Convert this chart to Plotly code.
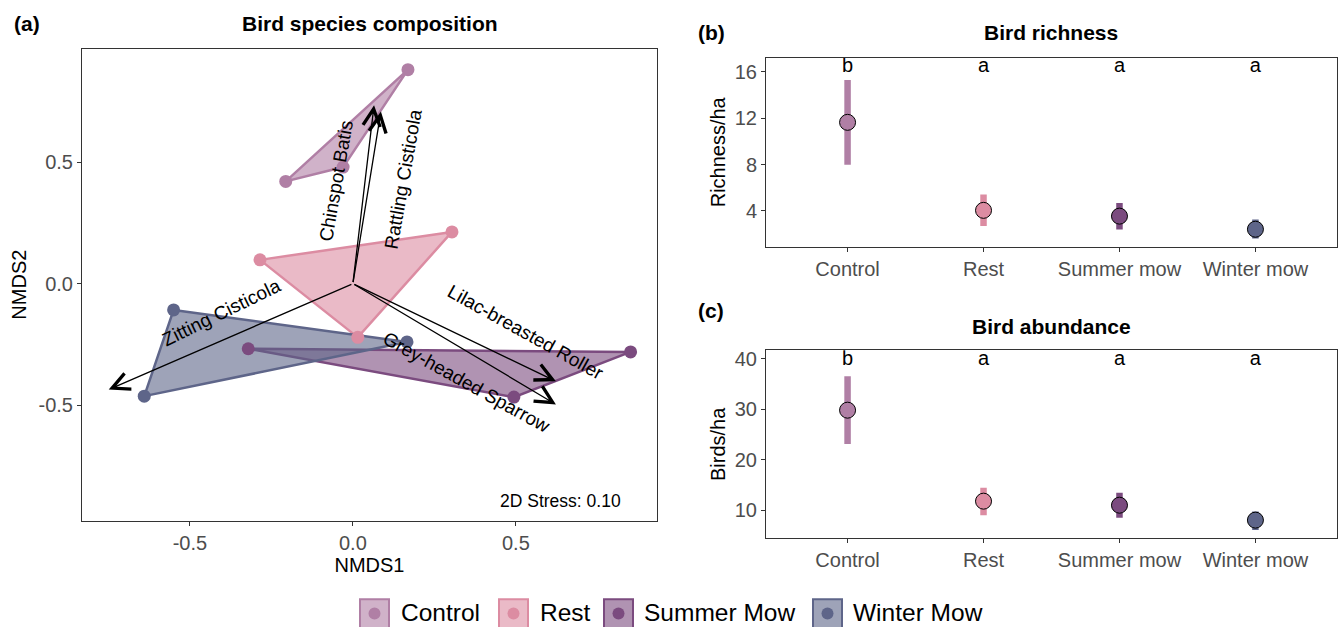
import plotly.graph_objects as go

W, H = 1341, 627

# ---------------- data ----------------
groups = ["Control", "Rest", "Summer Mow", "Winter Mow"]
group_colors = ["#B07FA5", "#DC8CA2", "#7B4B7F", "#5E6589"]
group_fills = ["rgba(176,127,165,0.6)", "rgba(220,140,162,0.6)",
               "rgba(123,75,127,0.6)", "rgba(94,101,137,0.6)"]

hull_x_control = [0.169, -0.206, -0.030]
hull_y_control = [0.881, 0.421, 0.480]
hull_x_rest = [-0.285, 0.304, 0.015]
hull_y_rest = [0.098, 0.213, -0.221]
hull_x_summer = [-0.321, 0.852, 0.494]
hull_y_summer = [-0.268, -0.281, -0.467]
hull_x_winter = [-0.550, 0.166, -0.640]
hull_y_winter = [-0.108, -0.240, -0.463]

species = ["Chinspot Batis", "Rattling Cisticola", "Zitting Cisticola",
           "Lilac-breasted Roller", "Grey-headed Sparrow"]
arrow_x = [0.065, 0.086, -0.749, 0.623, 0.623]
arrow_y = [0.735, 0.709, -0.436, -0.402, -0.497]
label_x = [-0.052, 0.153, -0.403, 0.531, 0.350]
label_y = [0.426, 0.430, -0.120, -0.203, -0.405]
label_angle = [-80, -80, -26, 29, 29]
stress_text = "2D Stress: 0.10"

treatments = ["Control", "Rest", "Summer mow", "Winter mow"]
rich_mean = [11.65, 4.05, 3.55, 2.42]
rich_lo = [7.98, 2.70, 2.39, 1.62]
rich_hi = [15.30, 5.43, 4.68, 3.25]
rich_letters = ["b", "a", "a", "a"]
abund_mean = [29.8, 11.8, 11.0, 8.05]
abund_lo = [23.1, 9.0, 8.5, 6.1]
abund_hi = [36.5, 14.45, 13.45, 9.75]
abund_letters = ["b", "a", "a", "a"]

FONT = "Liberation Sans, Arial, sans-serif"
TICKC = "#4D4D4D"
LINEC = "#333333"

fig = go.Figure()

# ---------------- panel (a) ----------------
hulls = [(hull_x_control, hull_y_control), (hull_x_rest, hull_y_rest),
         (hull_x_summer, hull_y_summer), (hull_x_winter, hull_y_winter)]
for (hx, hy), col, fc in zip(hulls, group_colors, group_fills):
    fig.add_trace(go.Scatter(x=hx + [hx[0]], y=hy + [hy[0]], mode="lines",
                             fill="toself", fillcolor=fc,
                             line=dict(color=col, width=2.5),
                             xaxis="x", yaxis="y", showlegend=False,
                             hoverinfo="skip"))
for (hx, hy), col in zip(hulls, group_colors):
    fig.add_trace(go.Scatter(x=hx, y=hy, mode="markers",
                             marker=dict(color=col, size=13),
                             xaxis="x", yaxis="y", showlegend=False))

annotations = []
for sx, sy in zip(arrow_x, arrow_y):
    annotations.append(dict(x=sx, y=sy, ax=0, ay=0, xref="x", yref="y",
                            axref="x", ayref="y", text="", showarrow=True,
                            arrowhead=5, arrowsize=2.6, arrowwidth=1.3,
                            arrowcolor="#000000", standoff=0))
for name, lx, ly, ang in zip(species, label_x, label_y, label_angle):
    annotations.append(dict(x=lx, y=ly, xref="x", yref="y", text=name,
                            showarrow=False, textangle=ang,
                            font=dict(family=FONT, size=19, color="#000000"),
                            xanchor="center", yanchor="middle"))
annotations.append(dict(x=0.828, y=-0.893, xref="x", yref="y", text=stress_text,
                        showarrow=False, xanchor="right", yanchor="middle",
                        font=dict(family=FONT, size=17.5, color="#000000")))

# ---------------- panels (b) and (c) ----------------
xpos = [1, 2, 3, 4]
for i in range(4):
    fig.add_trace(go.Scatter(
        x=[xpos[i]], y=[rich_mean[i]], mode="markers", xaxis="x2", yaxis="y2",
        marker=dict(color=group_colors[i], size=16, line=dict(color="#000000", width=1)),
        error_y=dict(type="data", symmetric=False,
                     array=[rich_hi[i] - rich_mean[i]],
                     arrayminus=[rich_mean[i] - rich_lo[i]],
                     color=group_colors[i], thickness=6.5, width=0),
        showlegend=False))
    fig.add_trace(go.Scatter(
        x=[xpos[i]], y=[abund_mean[i]], mode="markers", xaxis="x3", yaxis="y3",
        marker=dict(color=group_colors[i], size=16, line=dict(color="#000000", width=1)),
        error_y=dict(type="data", symmetric=False,
                     array=[abund_hi[i] - abund_mean[i]],
                     arrayminus=[abund_mean[i] - abund_lo[i]],
                     color=group_colors[i], thickness=6.5, width=0),
        showlegend=False))
fig.add_trace(go.Scatter(x=xpos, y=[16.4] * 4, mode="text", text=rich_letters,
                         textfont=dict(family=FONT, size=20, color="#000000"),
                         xaxis="x2", yaxis="y2", showlegend=False))
fig.add_trace(go.Scatter(x=xpos, y=[39.8] * 4, mode="text", text=abund_letters,
                         textfont=dict(family=FONT, size=20, color="#000000"),
                         xaxis="x3", yaxis="y3", showlegend=False))

# ---------------- titles ----------------
def px(x):
    return x / W


def py(y):
    return 1 - y / H


titles = [("(a)", 27, 21), ("Bird species composition", 370, 21),
          ("(b)", 711, 30), ("Bird richness", 1051, 30),
          ("(c)", 711, 309), ("Bird abundance", 1051, 325)]
for t, x, y in titles:
    annotations.append(dict(x=px(x), y=py(y), xref="paper", yref="paper",
                            text="<b>%s</b>" % t, showarrow=False,
                            xanchor="center", yanchor="middle",
                            font=dict(family=FONT, size=21, color="#000000")))

# ---------------- legend (manual) ----------------
shapes = []
key_left = [360, 499, 604, 813]
text_left = [399, 538, 642, 851]
ly0, ly1 = 599, 628
for i in range(4):
    shapes.append(dict(type="rect", xref="paper", yref="paper",
                       x0=px(key_left[i]), x1=px(key_left[i] + 29),
                       y0=py(ly1), y1=py(ly0),
                       fillcolor=group_fills[i],
                       line=dict(color=group_colors[i], width=2)))
    cx, cy, r = key_left[i] + 14.5, (ly0 + ly1) / 2, 6
    shapes.append(dict(type="circle", xref="paper", yref="paper",
                       x0=px(cx - r), x1=px(cx + r), y0=py(cy + r), y1=py(cy - r),
                       fillcolor=group_colors[i], line=dict(width=0)))
    annotations.append(dict(x=px(text_left[i]), y=py(612.5), xref="paper", yref="paper",
                            text=groups[i], showarrow=False, xanchor="left",
                            yanchor="middle",
                            font=dict(family=FONT, size=24.5, color="#000000")))

axis_common = dict(showline=True, linecolor=LINEC, linewidth=1, mirror=True,
                   ticks="outside", ticklen=4, tickcolor=LINEC, tickwidth=1,
                   showgrid=False, zeroline=False,
                   tickfont=dict(family=FONT, size=20, color=TICKC))
title_font = dict(family=FONT, size=20, color="#000000")

fig.update_layout(
    width=W, height=H,
    margin=dict(l=0, r=0, t=0, b=0),
    paper_bgcolor="white", plot_bgcolor="white",
    showlegend=False,
    xaxis=dict(domain=[px(82), px(657)], range=[-0.831, 0.933], anchor="y",
               tickvals=[-0.5, 0, 0.5], ticktext=["-0.5", "0.0", "0.5"],
               title=dict(text="NMDS1", font=title_font, standoff=4), **axis_common),
    yaxis=dict(domain=[py(520), py(46)], range=[-0.975, 0.967], anchor="x",
               tickvals=[-0.5, 0, 0.5], ticktext=["-0.5", "0.0", "0.5"],
               title=dict(text="NMDS2", font=title_font, standoff=6), **axis_common),
    xaxis2=dict(domain=[px(766), px(1337)], range=[0.4, 4.6], anchor="y2",
                tickvals=xpos, ticktext=treatments, **axis_common),
    yaxis2=dict(domain=[py(245), py(55)], range=[0.9, 17.23], anchor="x2",
                tickvals=[4, 8, 12, 16],
                title=dict(text="Richness/ha", font=title_font, standoff=3), **axis_common),
    xaxis3=dict(domain=[px(766), px(1337)], range=[0.4, 4.6], anchor="y3",
                tickvals=xpos, ticktext=treatments, **axis_common),
    yaxis3=dict(domain=[py(538), py(349)], range=[4.43, 41.64], anchor="x3",
                tickvals=[10, 20, 30, 40],
                title=dict(text="Birds/ha", font=title_font, standoff=3), **axis_common),
    annotations=annotations,
    shapes=shapes,
)

fig.write_html("out.html", config={"displayModeBar": False},
               post_script="document.body.style.margin='0px';document.body.style.overflow='hidden';")
